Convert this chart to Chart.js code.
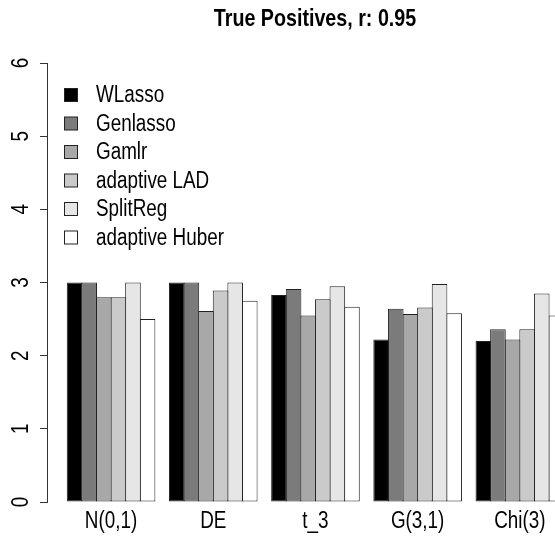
<!DOCTYPE html>
<html>
<head>
<meta charset="utf-8">
<script src="https://cdn.jsdelivr.net/npm/chart.js@4/dist/chart.umd.min.js"></script>
<style>
  html, body { margin: 0; padding: 0; background: #fff; overflow: hidden; }
  #wrap { width: 630px; height: 549px; }
</style>
</head>
<body>
<div id="wrap"><canvas id="bars" width="630" height="549"></canvas></div>
<script>
// 分布ごとの真陽性数（r = 0.95）
const categories = ["N(0,1)", "DE", "t_3", "G(3,1)", "Chi(3)"];
const methods = ["WLasso", "Genlasso", "Gamlr", "adaptive LAD", "SplitReg", "adaptive Huber"];
const wlasso   = [3.00, 3.00, 2.83, 2.22, 2.20];
const genlasso = [3.00, 3.00, 2.91, 2.64, 2.36];
const gamlr    = [2.80, 2.61, 2.55, 2.57, 2.22];
const adaLAD   = [2.80, 2.89, 2.77, 2.66, 2.36];
const splitReg = [3.00, 3.00, 2.95, 2.98, 2.85];
const adaHuber = [2.50, 2.75, 2.67, 2.58, 2.55];
const yTicks = [0, 1, 2, 3, 4, 5, 6];
const title = "True Positives, r: 0.95";

const series = [wlasso, genlasso, gamlr, adaLAD, splitReg, adaHuber];
const greys = ["#000000", "#7b7b7b", "#a8a8a8", "#cacaca", "#e6e6e6", "#ffffff"];
const FONT = '"Liberation Sans", Arial, sans-serif';
const NARROW = 0.82; // 横方向に詰めた文字幅

const $ = (s) => document.querySelector(s);

// 横に詰めた文字を描く
function narrowText(ctx, text, x, y, font, align) {
  ctx.save();
  ctx.font = font;
  ctx.fillStyle = "#000";
  ctx.textAlign = align || "left";
  ctx.textBaseline = "middle";
  ctx.translate(x, y);
  ctx.scale(NARROW, 1);
  ctx.fillText(text, 0, 0);
  ctx.restore();
}

// タイトル・軸ラベル・凡例
const labelsAndLegend = {
  id: "labelsAndLegend",
  afterDraw(chart) {
    const { ctx } = chart, x = chart.scales.x, y = chart.scales.y;

    narrowText(ctx, title, chart.width / 2, 19, `bold 24px ${FONT}`, "center");

    categories.forEach((c, i) => narrowText(ctx, c, x.getPixelForValue(i), 522, `23px ${FONT}`, "center"));

    yTicks.forEach(v => {
      ctx.save();
      ctx.translate(22, y.getPixelForValue(v));
      ctx.rotate(-Math.PI / 2);
      narrowText(ctx, String(v), 0, 0, `23px ${FONT}`, "center");
      ctx.restore();
    });

    chart.data.datasets.forEach((ds, i) => {
      const cy = 95 + i * 28.5;
      ctx.save();
      ctx.fillStyle = ds.backgroundColor;
      ctx.fillRect(64.5, cy - 6.5, 13, 13);
      ctx.strokeStyle = "#222";
      ctx.lineWidth = 1;
      ctx.strokeRect(64.5, cy - 6.5, 13, 13);
      ctx.restore();
      narrowText(ctx, ds.label, 96, cy + 1, `23px ${FONT}`, "left");
    });
  }
};

const datasets = methods.map((m, k) => ({
  label: m,
  data: series[k].map((v, i) => ({ x: i, y: v })),
  backgroundColor: greys[k],
  borderColor: "#222",
  borderWidth: 1,
  borderSkipped: false,
  categoryPercentage: 6 / 7,
  barPercentage: 1.07
}));

new Chart($("#bars"), {
  type: "bar",
  data: { datasets },
  options: {
    responsive: false,
    animation: false,
    layout: { padding: { top: 63, left: 0, right: 0, bottom: 0 } },
    plugins: {
      legend: { display: false },
      tooltip: { enabled: false },
      title: { display: false }
    },
    scales: {
      x: {
        type: "linear",
        offset: false,
        min: -0.627,
        max: 5.078,
        grid: { display: false, drawTicks: false, offset: false },
        border: { display: false },
        afterBuildTicks: (s) => { s.ticks = categories.map((c, i) => ({ value: i })); },
        afterFit: (s) => { s.height = 47; },
        ticks: { display: false }
      },
      y: {
        min: 0,
        max: 6,
        afterBuildTicks: (s) => { s.ticks = yTicks.map(v => ({ value: v })); },
        afterFit: (s) => { s.width = 47; },
        grid: { drawOnChartArea: false, drawTicks: true, tickLength: 7, color: "#333" },
        border: { display: true, color: "#333", width: 1 },
        ticks: { display: false }
      }
    }
  },
  plugins: [labelsAndLegend]
});
</script>
</body>
</html>
